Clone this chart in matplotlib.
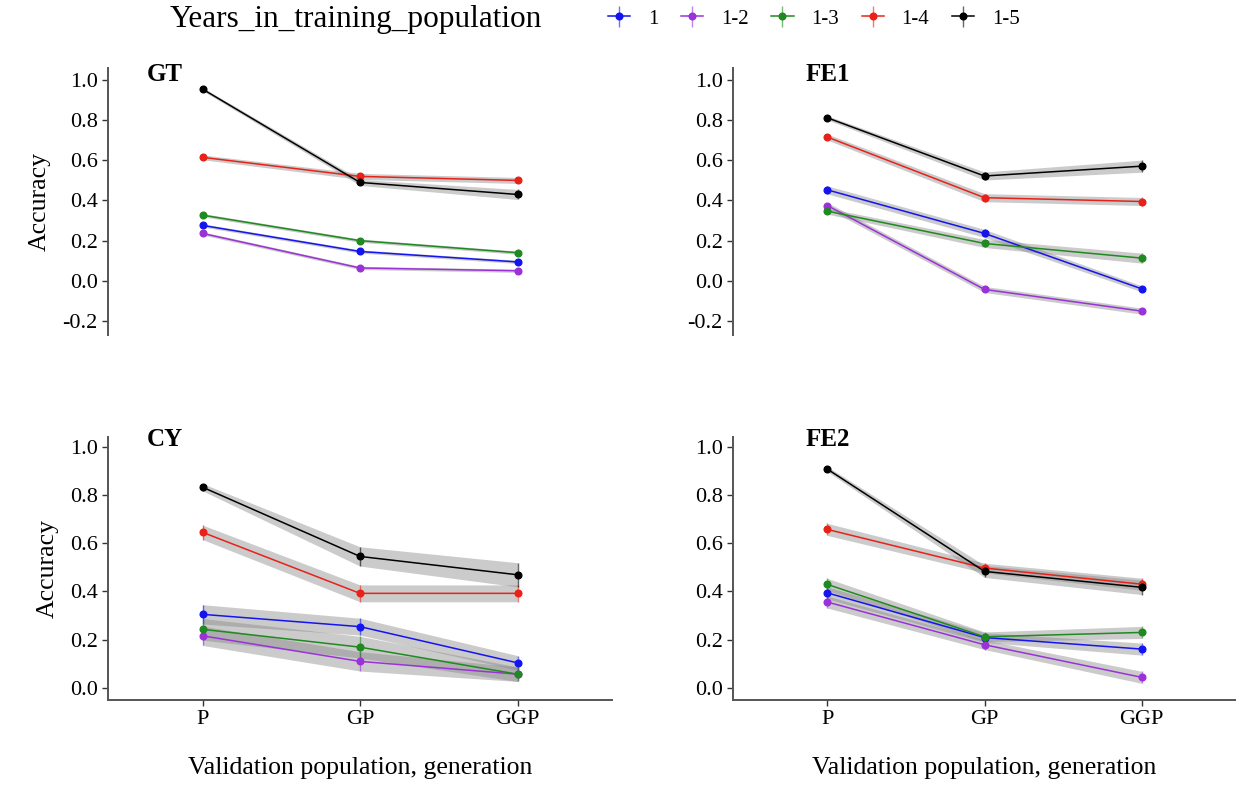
import matplotlib.pyplot as plt

plt.rcParams['font.family'] = ['Liberation Serif', 'DejaVu Serif']

generations = ["P", "GP", "GGP"]
years = ["1", "1-2", "1-3", "1-4", "1-5"]
colors = ["#1414f0", "#9a32d8", "#1f8a1f", "#e82218", "#000000"]

# accuracy per trait, one row per training-year group (1, 1-2, 1-3, 1-4, 1-5)
gt_acc = [[0.276, 0.146, 0.094],
          [0.236, 0.064, 0.050],
          [0.327, 0.200, 0.140],
          [0.615, 0.520, 0.500],
          [0.955, 0.490, 0.430]]
gt_err = [[0.008, 0.008, 0.008],
          [0.008, 0.008, 0.008],
          [0.008, 0.008, 0.008],
          [0.012, 0.015, 0.015],
          [0.008, 0.015, 0.025]]

fe1_acc = [[0.453, 0.236, -0.040],
           [0.375, -0.043, -0.151],
           [0.347, 0.186, 0.113],
           [0.716, 0.414, 0.395],
           [0.812, 0.522, 0.571]]
fe1_err = [[0.020, 0.020, 0.015],
           [0.015, 0.015, 0.015],
           [0.015, 0.020, 0.025],
           [0.015, 0.020, 0.020],
           [0.010, 0.020, 0.030]]

cy_acc = [[0.305, 0.254, 0.104],
          [0.216, 0.110, 0.057],
          [0.243, 0.169, 0.057],
          [0.645, 0.392, 0.392],
          [0.832, 0.545, 0.469]]
cy_err = [[0.040, 0.035, 0.030],
          [0.040, 0.040, 0.030],
          [0.045, 0.045, 0.030],
          [0.030, 0.035, 0.035],
          [0.015, 0.040, 0.050]]

fe2_acc = [[0.394, 0.209, 0.161],
           [0.356, 0.179, 0.044],
           [0.429, 0.212, 0.230],
           [0.657, 0.497, 0.430],
           [0.907, 0.483, 0.417]]
fe2_err = [[0.025, 0.020, 0.025],
           [0.025, 0.020, 0.025],
           [0.025, 0.020, 0.025],
           [0.025, 0.020, 0.025],
           [0.010, 0.025, 0.030]]

W, H = 1236, 787
fig = plt.figure(figsize=(W / 100, H / 100), dpi=100)


def px_axes(left, top, right, bottom):
    return fig.add_axes([left / W, 1 - bottom / H, (right - left) / W, (bottom - top) / H])


panels = [
    ("GT", gt_acc, gt_err, px_axes(108, 68, 612, 335), False, True),
    ("FE1", fe1_acc, fe1_err, px_axes(733, 68, 1236, 335), False, False),
    ("CY", cy_acc, cy_err, px_axes(108, 437, 612, 700), True, True),
    ("FE2", fe2_acc, fe2_err, px_axes(733, 437, 1236, 700), True, False),
]

x = [1, 2, 3]
spine_col = "#555555"
handles = []
for name, acc, err, ax, bottom_row, left_col in panels:
    for i, (vals, e) in enumerate(zip(acc, err)):
        lo = [v - d for v, d in zip(vals, e)]
        hi = [v + d for v, d in zip(vals, e)]
        ax.fill_between(x, lo, hi, color="#848484", alpha=0.42, linewidth=0, zorder=1)
        cont = ax.errorbar(x, vals, yerr=e, color=colors[i], marker="o", markersize=4.8,
                           linewidth=1.1, elinewidth=1.0, capsize=0, label=years[i], zorder=3)
        cont[2][0].set_alpha(0.6)
        if name == "GT":
            handles.append(cont)

    ax.set_xlim(0.4, 3.6)
    if bottom_row:
        ax.set_ylim(-0.05, 1.04)
        ax.set_yticks([0.0, 0.2, 0.4, 0.6, 0.8, 1.0])
        ax.set_xticks(x)
        ax.set_xticklabels(generations)
        ax.set_xlabel("Validation population, generation", fontsize=18.5, labelpad=20)
        ax.spines["bottom"].set_color(spine_col)
        ax.spines["bottom"].set_linewidth(1.4)
    else:
        ax.set_ylim(-0.27, 1.06)
        ax.set_yticks([-0.2, 0.0, 0.2, 0.4, 0.6, 0.8, 1.0])
        ax.set_xticks([])
        ax.spines["bottom"].set_visible(False)
    ax.set_yticklabels(["%.1f" % t for t in ax.get_yticks()])
    ax.spines["top"].set_visible(False)
    ax.spines["right"].set_visible(False)
    ax.spines["left"].set_color(spine_col)
    ax.spines["left"].set_linewidth(1.4)
    ax.tick_params(colors="#333333", labelcolor="black", labelsize=16, length=4, width=1)
    if left_col:
        ax.set_ylabel("Accuracy", fontsize=18.5, labelpad=8)
    lx = 0.077 if left_col else 0.145
    ax.text(lx, 1.03, name, transform=ax.get_yaxis_transform(), fontsize=18,
            fontweight="bold", va="center", ha="left")

fig.text(170 / W, 1 - 19 / H, "Years_in_training_population", fontsize=22.5,
         va="center", ha="left")
fig.legend(handles=handles, labels=years, loc="center left",
           bbox_to_anchor=(608 / W, 1 - 19 / H), ncol=5, frameon=False,
           borderpad=0, borderaxespad=0, fontsize=15, handlelength=1.06,
           handletextpad=0.85, columnspacing=1.1)

fig.savefig("out.png", dpi=100)
